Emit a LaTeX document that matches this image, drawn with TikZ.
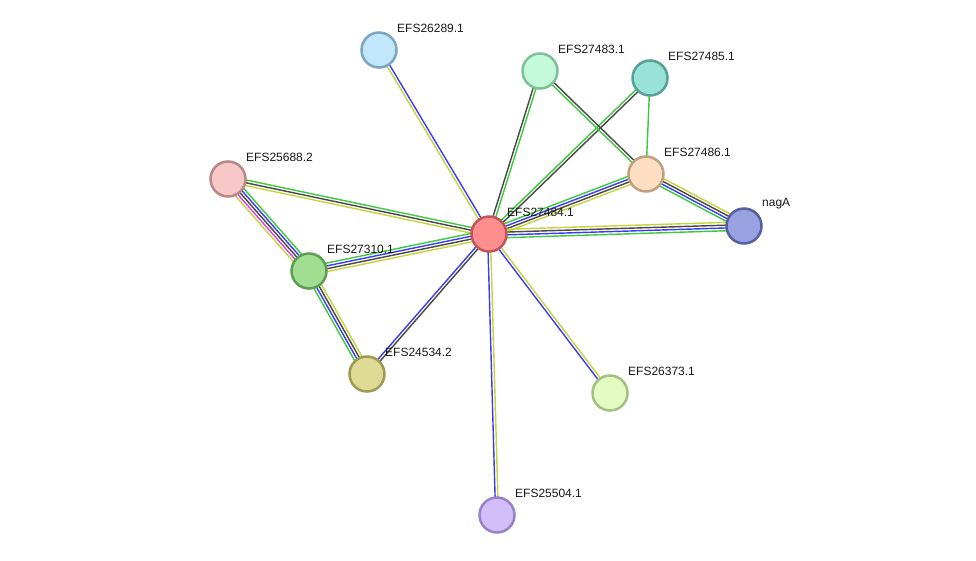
\documentclass[tikz,border=0pt]{standalone}
\usepackage{fontspec}
\newfontfamily\lblfont{Liberation Sans}
\usepackage{tikz}
\usetikzlibrary{calc,backgrounds}

\definecolor{edgeGreen}{HTML}{3DC83D}
\definecolor{edgeBlue}{HTML}{3B3BF7}
\definecolor{edgeBlack}{HTML}{474747}
\definecolor{edgeYellow}{HTML}{C4D43A}
\definecolor{edgeMagenta}{HTML}{E03CE0}

\definecolor{fillRed}{HTML}{FF8F8F}     \definecolor{rimRed}{HTML}{C25555}
\definecolor{fillSky}{HTML}{C2E7FB}     \definecolor{rimSky}{HTML}{7CA5C2}
\definecolor{fillMint}{HTML}{C4FADA}    \definecolor{rimMint}{HTML}{7EC09A}
\definecolor{fillTeal}{HTML}{98E2D7}    \definecolor{rimTeal}{HTML}{56A096}
\definecolor{fillPeach}{HTML}{FDDEC2}   \definecolor{rimPeach}{HTML}{BFA07F}
\definecolor{fillIndigo}{HTML}{99A1E0}  \definecolor{rimIndigo}{HTML}{55609F}
\definecolor{fillRose}{HTML}{F8C8C8}    \definecolor{rimRose}{HTML}{B98888}
\definecolor{fillLeaf}{HTML}{A0DF92}    \definecolor{rimLeaf}{HTML}{5E9E52}
\definecolor{fillOlive}{HTML}{DFDB97}   \definecolor{rimOlive}{HTML}{9D9A52}
\definecolor{fillLime}{HTML}{E2FCC2}    \definecolor{rimLime}{HTML}{A1C082}
\definecolor{fillLilac}{HTML}{D3BEFA}   \definecolor{rimLilac}{HTML}{9782C8}

% several parallel strands between two proteins
\newcommand{\bundle}[4]{%
  \foreach \col [count=\i] in {#4} {
    \pgfmathsetmacro{\off}{(\i-(#3+1)/2)*2.8}
    \draw[strand, \col] ($(#1)!\off pt!90:(#2)$) -- ($(#2)!\off pt!-90:(#1)$);
  }%
}

\begin{document}
\begin{tikzpicture}[x=1pt, y=-1pt,
    prot/.style={circle, minimum size=35pt, inner sep=0pt, line width=2.5pt, fill=fill#1, draw=rim#1},
    lbl/.style={font=\lblfont\fontsize{12}{14}\selectfont, anchor=west, inner sep=0pt, text=black!90},
    strand/.style={line width=1.4pt}]
        \useasboundingbox (0,0) rectangle (976,560);

        \node[prot=Red] (c27484) at (489,234) {};
        \node[prot=Sky] (c26289) at (379,50) {};
        \node[prot=Mint] (c27483) at (540,71) {};
        \node[prot=Teal] (c27485) at (650,78) {};
        \node[prot=Peach] (c27486) at (646,174) {};
        \node[prot=Indigo] (cnagA) at (744,226) {};
        \node[prot=Rose] (c25688) at (228,179) {};
        \node[prot=Leaf] (c27310) at (309,271) {};
        \node[prot=Olive] (c24534) at (367,374) {};
        \node[prot=Lime] (c26373) at (610,393) {};
        \node[prot=Lilac] (c25504) at (497,515) {};

        \node[lbl] (t27484) at ($(c27484)+(18,-22)$) {EFS27484.1};
        \node[lbl] (t26289) at ($(c26289)+(18,-22)$) {EFS26289.1};
        \node[lbl] (t27483) at ($(c27483)+(18,-22)$) {EFS27483.1};
        \node[lbl] (t27485) at ($(c27485)+(18,-22)$) {EFS27485.1};
        \node[lbl] (t27486) at ($(c27486)+(18,-22)$) {EFS27486.1};
        \node[lbl] (tnagA) at ($(cnagA)+(18,-22)$) {nagA};
        \node[lbl] (t25688) at ($(c25688)+(18,-22)$) {EFS25688.2};
        \node[lbl] (t27310) at ($(c27310)+(18,-22)$) {EFS27310.1};
        \node[lbl] (t24534) at ($(c24534)+(18,-22)$) {EFS24534.2};
        \node[lbl] (t26373) at ($(c26373)+(18,-22)$) {EFS26373.1};
        \node[lbl] (t25504) at ($(c25504)+(18,-22)$) {EFS25504.1};

        \begin{scope}[on background layer]
        \fill[white] (0,0) rectangle (976,560);
        \bundle{c27484}{c26289}{2}{edgeBlue,edgeYellow}
        \bundle{c27484}{c27483}{2}{edgeGreen,edgeBlack}
        \bundle{c27484}{c27485}{2}{edgeBlack,edgeGreen}
        \bundle{c27483}{c27486}{2}{edgeGreen,edgeBlack}
        \bundle{c27485}{c27486}{1}{edgeGreen}
        \bundle{c27484}{c27486}{4}{edgeYellow,edgeBlack,edgeBlue,edgeGreen}
        \bundle{c27486}{cnagA}{4}{edgeGreen,edgeBlue,edgeBlack,edgeYellow}
        \bundle{c27484}{cnagA}{4}{edgeGreen,edgeBlue,edgeBlack,edgeYellow}
        \bundle{c25688}{c27484}{3}{edgeYellow,edgeBlack,edgeGreen}
        \bundle{c25688}{c27310}{5}{edgeYellow,edgeMagenta,edgeBlack,edgeBlue,edgeGreen}
        \bundle{c27310}{c27484}{4}{edgeYellow,edgeBlack,edgeBlue,edgeGreen}
        \bundle{c27310}{c24534}{4}{edgeGreen,edgeBlue,edgeBlack,edgeYellow}
        \bundle{c27484}{c24534}{2}{edgeBlue,edgeBlack}
        \bundle{c27484}{c26373}{2}{edgeBlue,edgeYellow}
        \bundle{c27484}{c25504}{2}{edgeBlue,edgeYellow}
        \end{scope}
    \end{tikzpicture}
\end{document}
